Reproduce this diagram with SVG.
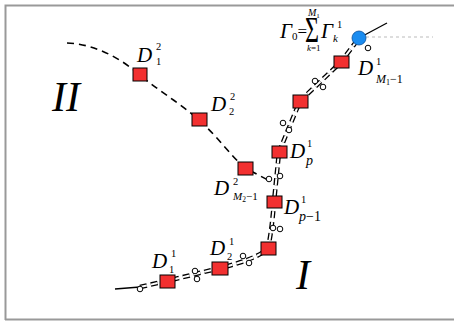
<svg xmlns="http://www.w3.org/2000/svg" width="454" height="322" viewBox="0 0 454 322">
<style>
.t{font-family:"Liberation Serif","Times New Roman",serif;font-style:italic;fill:#000}
.r{font-family:"Liberation Serif","Times New Roman",serif;font-style:normal;fill:#000}
.d{font-size:21px}
.s{font-size:10.5px}
.sq{fill:#f23030;stroke:#000;stroke-width:1}
.sc{fill:#fff;stroke:#000;stroke-width:1}
</style>
<rect x="0" y="0" width="454" height="322" fill="#fff"/>
<path d="M5.5,320 V5.5 H454" fill="none" stroke="#999" stroke-width="2"/>
<path d="M5,319.5 H454" fill="none" stroke="#999" stroke-width="2"/>
<g id="connectors">
  <path d="M67,43 C95,44 120,58 140,75 S180,103 199,120 S230,155 245,168 L268,180" fill="none" stroke="#000" stroke-width="1.6" stroke-dasharray="7,5"/>
  <path d="M115,289 L140,287" fill="none" stroke="#000" stroke-width="1.5"/>
  <g fill="none" stroke-linejoin="round">
    <path d="M140,287 L167,281 L220,268 C245,262 262,255 268,248 C271,235 273,215 274,202 L279,152 L300,101 L341,62 L359,38" stroke="#000" stroke-width="4.6" stroke-dasharray="7,4"/>
    <path d="M140,287 L167,281 L220,268 C245,262 262,255 268,248 C271,235 273,215 274,202 L279,152 L300,101 L341,62 L359,38" stroke="#fff" stroke-width="2" stroke-dasharray="7,4"/>
  </g>
  <path d="M359,38 L387,23" fill="none" stroke="#000" stroke-width="1.3"/>
  <path d="M366,37 H433" fill="none" stroke="#bbb" stroke-width="1" stroke-dasharray="3,3"/>
</g>
<g id="scissors">
  <circle class="sc" cx="140" cy="289" r="2.8"/>
  <circle class="sc" cx="195" cy="271" r="2.8"/><circle class="sc" cx="197" cy="279" r="2.8"/>
  <circle class="sc" cx="243" cy="256" r="2.8"/><circle class="sc" cx="249" cy="263" r="2.8"/>
  <circle class="sc" cx="273" cy="228" r="2.8"/><circle class="sc" cx="280" cy="229" r="2.8"/>
  <circle class="sc" cx="269" cy="179" r="2.8"/><circle class="sc" cx="280" cy="176" r="2.8"/>
  <circle class="sc" cx="283" cy="123" r="2.8"/><circle class="sc" cx="289" cy="130" r="2.8"/>
  <circle class="sc" cx="315" cy="81" r="2.8"/><circle class="sc" cx="323" cy="87" r="2.8"/>
  <circle class="sc" cx="368" cy="48" r="2.8"/>
</g>
<g id="D1_2"><rect class="sq" x="133" y="68" width="14" height="13"/>
  <text class="t d" x="137" y="62">D</text><text class="r s" x="156" y="50">2</text><text class="r s" x="156" y="65">1</text></g>
<g id="D2_2"><rect class="sq" x="192" y="113" width="15" height="13"/>
  <text class="t d" x="211" y="111">D</text><text class="r s" x="230" y="100">2</text><text class="r s" x="229" y="115">2</text></g>
<g id="DM2_2"><rect class="sq" x="238" y="162" width="15" height="13"/>
  <text class="t d" x="214" y="195">D</text><text class="r s" x="233" y="185">2</text>
  <text class="t" x="233" y="200" font-size="11">M<tspan class="r" font-size="7.5" dy="2">2</tspan><tspan class="r" font-size="11" dy="-2">−1</tspan></text></g>
<g id="Dp_1"><rect class="sq" x="272" y="146" width="15" height="12"/>
  <text class="t d" x="290" y="158">D</text><text class="r s" x="307" y="147">1</text><text class="t" x="306" y="165" font-size="14">p</text></g>
<g id="Dp1_1"><rect class="sq" x="267" y="196" width="15" height="12"/>
  <text class="t d" x="284" y="214">D</text><text class="r s" x="301" y="203">1</text><text class="t" x="299" y="221" font-size="14">p<tspan class="r">−1</tspan></text></g>
<g id="Dmid"><rect class="sq" x="261" y="242" width="15" height="13"/></g>
<g id="D2_1"><text class="t d" x="210" y="255">D</text><text class="r s" x="229" y="245">1</text><text class="r s" x="227" y="260">2</text>
  <rect class="sq" x="212" y="262" width="16" height="13"/></g>
<g id="D1_1"><rect class="sq" x="160" y="275" width="15" height="13"/>
  <text class="t d" x="152" y="268">D</text><text class="r s" x="171" y="257">1</text><text class="r s" x="169" y="273">1</text></g>
<g id="Dq_1"><rect class="sq" x="293" y="95" width="15" height="13"/></g>
<g id="DM1_1"><rect class="sq" x="334" y="56" width="15" height="12"/>
  <text class="t d" x="358" y="75">D</text><text class="r s" x="376" y="65">1</text>
  <text class="t" x="376" y="83" font-size="12">M<tspan class="r" font-size="8" dy="2">1</tspan><tspan class="r" font-size="12" dy="-2">−1</tspan></text></g>
<g id="source"><circle cx="359" cy="38" r="7" fill="#1a8cf0" stroke="#0a4f9a" stroke-width="0.8"/>
  <text class="t" x="280" y="38" font-size="21">Γ<tspan class="r" font-size="11" dy="2">0</tspan><tspan class="r" font-size="17" dy="-3">=</tspan></text>
  <text class="r" font-size="24" transform="translate(305,42) scale(1,1.45)">Σ</text>
  <text class="t" x="308" y="16" font-size="10">M<tspan class="r" font-size="7" dy="2">1</tspan></text>
  <text class="t" x="307" y="51" font-size="9">k<tspan class="r">=1</tspan></text>
  <text class="t" x="321" y="38" font-size="21">Γ</text><text class="r s" x="337" y="28">1</text><text class="t" x="333" y="42" font-size="11">k</text></g>
<g id="regionII"><text class="t" x="52" y="111" font-size="42">II</text></g>
<g id="regionI"><text class="t" x="296" y="289" font-size="42">I</text></g>
</svg>
